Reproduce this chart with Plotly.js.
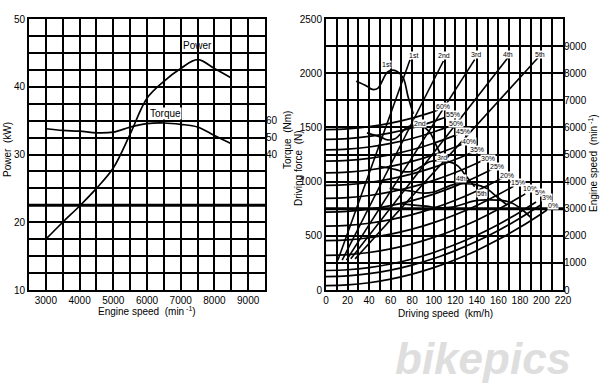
<!DOCTYPE html>
<html>
<head>
<meta charset="utf-8">
<script src="https://cdn.plot.ly/plotly-3.0.1.min.js"></script>
<style>html,body{margin:0;padding:0;background:#fff;}#chart{width:600px;height:383px;}</style>
</head>
<body>
<div id="chart"></div>
<script>
// ---------- Left chart: engine performance ----------
const rpm = [3000, 3500, 4000, 4500, 5000, 5500, 6000, 6500, 7000, 7500, 8000, 8500];
const powerKW = [17.5, 20, 22.4, 25, 28, 33, 38.3, 40.8, 42.7, 44, 42.7, 41.3];
const torqueNm = [55.2, 54.2, 53.8, 52.8, 53.2, 56.2, 58.2, 58.6, 57.8, 56.2, 51.2, 46.4];

// ---------- Right chart: driving force per gear ----------
const gear1Speed = [28, 38, 43, 48, 57, 62, 67, 72, 76, 81];
const gear1Force = [1925, 1880, 1850, 1860, 2010, 2028, 2010, 1950, 1790, 1625];
const gear2Speed = [38, 51, 57, 64, 76, 83, 89, 96, 102, 108];
const gear2Force = [1450, 1410, 1385, 1395, 1505, 1520, 1510, 1460, 1340, 1215];
const gear3Speed = [49, 65, 73, 81, 97, 105, 113, 122, 130, 138];
const gear3Force = [1142, 1110, 1090, 1098, 1186, 1193, 1186, 1148, 1052, 953];
const gear4Speed = [59, 79, 89, 99, 119, 128, 138, 148, 158, 168];
const gear4Force = [938, 912, 895, 902, 975, 980, 975, 943, 865, 785];
const gear5Speed = [70, 93, 105, 117, 140, 151, 163, 173, 182, 190];
const gear5Force = [795, 773, 758, 765, 826, 831, 826, 800, 740, 670];
const gearNames = ['1st', '2nd', '3rd', '4th', '5th'];
const gearCurveLabelSpeed = [55.7, 87, 107.4, 125, 145];
const gearCurveLabelForce = [2078, 1540, 1218, 1033, 890];

// engine speed vs driving speed lines (right axis)
const gearLineStartSpeed = [11, 15, 19, 23, 27];
const gearLineEndSpeed = [78, 109, 138, 169, 197];
const gearLineStartRpm = [1100, 1100, 1100, 1150, 1150];
const gearLineEndRpm = [8500, 8450, 8500, 8580, 8580];
const gearLineLabelSpeed = [80.8, 109.6, 139.3, 169, 198.7];
const gearLineLabelRpm = [8650, 8650, 8680, 8700, 8680];

// running resistance on grades
const gradeLabels = ['60%', '55%', '50%', '45%', '40%', '35%', '30%', '25%', '20%', '15%', '10%', '5%', '3%', '0%'];
const gradeSpeedGrid = [0, 20, 40, 60, 80, 100, 120, 140, 160, 180, 200];
const grade60 = [1480, 1487, 1507, 1540, 1586, 1646];
const grade55 = [1390, 1397, 1417, 1450, 1496, 1556];
const grade50 = [1292, 1299, 1319, 1352, 1398, 1458];
const grade45 = [1188, 1195, 1215, 1248, 1294, 1354, 1427];
const grade40 = [1080, 1087, 1107, 1140, 1186, 1246, 1319];
const grade35 = [965, 972, 992, 1025, 1071, 1131, 1204];
const grade30 = [845, 852, 872, 905, 951, 1011, 1084, 1170];
const grade25 = [719, 726, 746, 779, 825, 885, 958, 1044];
const grade20 = [589, 596, 616, 649, 695, 755, 828, 914, 1014];
const grade15 = [455, 462, 482, 515, 561, 621, 694, 780, 880];
const grade10 = [319, 326, 346, 379, 425, 485, 558, 644, 744, 857];
const grade5 = [180, 187, 207, 240, 286, 346, 419, 505, 605, 718];
const grade3 = [124, 131, 151, 184, 230, 290, 363, 449, 549, 662];
const grade0 = [40, 47, 67, 100, 146, 206, 279, 365, 465, 578, 704];
const gradeEndSpeed = [104, 112, 116, 122, 128, 135, 145, 154, 164, 174, 185, 195, 200, 205];
const gradeEndForce = [1660, 1598, 1515, 1435, 1352, 1267, 1194, 1113, 1035, 958, 887, 811, 788, 738];
const gradeLabelSpeed = [109, 118, 121, 127.5, 133, 140, 150, 158.5, 168, 178.5, 189, 199, 205, 211];
const gradeLabelForce = [1695, 1623, 1540, 1463, 1370, 1292, 1215, 1138, 1060, 990, 937, 903, 850, 782];

const FONT = 'Liberation Sans Narrow, Arial Narrow, Liberation Sans, Arial, sans-serif';
const LW = 1.7;
const traces = [];
const line = {color: 'black', width: LW, shape: 'spline'};

traces.push({x: rpm, y: powerKW, xaxis: 'x', yaxis: 'y', mode: 'lines', line: line, hoverinfo: 'skip'});
traces.push({x: rpm, y: torqueNm, xaxis: 'x', yaxis: 'y2', mode: 'lines', line: line, hoverinfo: 'skip'});

const gearSpeeds = [gear1Speed, gear2Speed, gear3Speed, gear4Speed, gear5Speed];
const gearForces = [gear1Force, gear2Force, gear3Force, gear4Force, gear5Force];
for (let i = 0; i < 5; i++) {
  traces.push({x: gearSpeeds[i], y: gearForces[i], xaxis: 'x2', yaxis: 'y3', mode: 'lines', line: line, hoverinfo: 'skip'});
  traces.push({x: [gearLineStartSpeed[i], gearLineEndSpeed[i]], y: [gearLineStartRpm[i], gearLineEndRpm[i]],
    xaxis: 'x2', yaxis: 'y4', mode: 'lines', line: {color: 'black', width: 1.6}, hoverinfo: 'skip'});
}
const grades = [grade60, grade55, grade50, grade45, grade40, grade35, grade30, grade25, grade20, grade15, grade10, grade5, grade3, grade0];
for (let i = 0; i < grades.length; i++) {
  const xs = gradeSpeedGrid.slice(0, grades[i].length).concat([gradeEndSpeed[i]]);
  const ys = grades[i].concat([gradeEndForce[i]]);
  traces.push({x: xs, y: ys, xaxis: 'x2', yaxis: 'y3', mode: 'lines', line: line, hoverinfo: 'skip'});
}

const BLACK = {size: 7, color: 'black', family: FONT};
const annotations = [];
annotations.push({x: 7500, y: 46.1, xref: 'x', yref: 'y', text: 'Power', showarrow: false,
  font: {size: 10, color: 'black', family: FONT}, xanchor: 'center', yanchor: 'middle'});
annotations.push({x: 6560, y: 36.1, xref: 'x', yref: 'y', text: 'Torque', showarrow: false,
  font: {size: 10, color: 'black', family: FONT}, bgcolor: 'white', borderpad: 0, xanchor: 'center', yanchor: 'middle'});
for (let i = 0; i < 5; i++) {
  annotations.push({x: gearCurveLabelSpeed[i], y: gearCurveLabelForce[i], xref: 'x2', yref: 'y3', text: gearNames[i],
    showarrow: false, font: BLACK, bgcolor: 'white', borderpad: 0, xanchor: 'center', yanchor: 'middle'});
  annotations.push({x: gearLineLabelSpeed[i], y: gearLineLabelRpm[i], xref: 'x2', yref: 'y4', text: gearNames[i],
    showarrow: false, font: BLACK, bgcolor: 'white', borderpad: 0, xanchor: 'center', yanchor: 'middle'});
}
for (let i = 0; i < gradeLabels.length; i++) {
  annotations.push({x: gradeLabelSpeed[i], y: gradeLabelForce[i], xref: 'x2', yref: 'y3', text: gradeLabels[i],
    showarrow: false, font: BLACK, bgcolor: 'white', borderpad: 0, xanchor: 'center', yanchor: 'middle'});
}
// axis titles placed where the reference shows them
const axisTitles = [
  {text: 'Power  (kW)', x: 8, y: 150, angle: -90},
  {text: 'Torque  (Nm)', x: 287, y: 140, angle: -90},
  {text: 'Driving force  (N)', x: 298, y: 168, angle: -90},
  {text: 'Engine speed  (min<sup> -1</sup>)', x: 593, y: 163, angle: -90},
  {text: 'Engine speed  (min<sup> -1</sup>)', x: 147, y: 311, angle: 0},
  {text: 'Driving speed  (km/h)', x: 445, y: 313, angle: 0}
];
for (const t of axisTitles) {
  annotations.push({x: t.x / 600, y: 1 - t.y / 383, xref: 'paper', yref: 'paper', text: t.text, textangle: t.angle,
    showarrow: false, xanchor: 'center', yanchor: 'middle', font: {size: 10, color: 'black', family: FONT}});
}
annotations.push({x: 483 / 600, y: 1 - 358 / 383, xref: 'paper', yref: 'paper', text: 'bikepics', showarrow: false,
  xanchor: 'center', yanchor: 'middle',
  font: {size: 44, family: 'Liberation Sans, Arial, sans-serif', color: '#dedede', style: 'italic', weight: 'bold'}});

function ax(extra) {
  return Object.assign({
    showline: true, mirror: true, linecolor: 'black', linewidth: 2,
    showgrid: true, gridcolor: 'black', gridwidth: 2, zeroline: false,
    ticks: '', tickfont: {size: 10, color: 'black'}, automargin: false
  }, extra);
}

const yDom = [1 - 290 / 383, 1 - 19 / 383];
const layout = {
  width: 600, height: 383,
  margin: {l: 0, r: 0, t: 0, b: 0},
  paper_bgcolor: 'white', plot_bgcolor: 'white',
  showlegend: false,
  font: {family: FONT, size: 10, color: 'black'},
  xaxis: ax({domain: [29 / 600, 265 / 600], range: [2500, 9500], dtick: 1000, tick0: 0, anchor: 'y',
    minor: {dtick: 500, tick0: 0, showgrid: true, gridcolor: 'black', gridwidth: 2}}),
  yaxis: ax({domain: yDom, range: [10, 50], dtick: 10, anchor: 'x',
    minor: {dtick: 2.5, tick0: 0, showgrid: true, gridcolor: 'black', gridwidth: 2}}),
  yaxis2: {overlaying: 'y', side: 'right', anchor: 'x', range: [-40, 120], tickvals: [40, 50, 60],
    showgrid: false, zeroline: false, showline: false, ticks: '', tickfont: {size: 10, color: 'black'}, automargin: false},
  xaxis2: ax({domain: [326 / 600, 563 / 600], range: [0, 220], dtick: 20, anchor: 'y3',
    minor: {dtick: 10, tick0: 0, showgrid: true, gridcolor: 'black', gridwidth: 2}}),
  yaxis3: ax({domain: yDom, range: [0, 2500], dtick: 500, anchor: 'x2',
    minor: {dtick: 250, tick0: 0, showgrid: true, gridcolor: 'black', gridwidth: 2}}),
  yaxis4: {overlaying: 'y3', side: 'right', anchor: 'x2', range: [0, 10000],
    tickvals: [0, 1000, 2000, 3000, 4000, 5000, 6000, 7000, 8000, 9000],
    showgrid: false, zeroline: false, showline: false, ticks: '', tickfont: {size: 10, color: 'black'}, automargin: false},
  shapes: [
    {type: 'line', xref: 'x', yref: 'y', x0: 2500, x1: 9500, y0: 22.5, y1: 22.5, line: {color: 'black', width: 3}},
    {type: 'line', xref: 'x2', yref: 'y4', x0: 0, x1: 220, y0: 3000, y1: 3000, line: {color: 'black', width: 3}}
  ],
  annotations: annotations
};

Plotly.newPlot('chart', traces, layout, {staticPlot: true, displayModeBar: false});
</script>
</body>
</html>
